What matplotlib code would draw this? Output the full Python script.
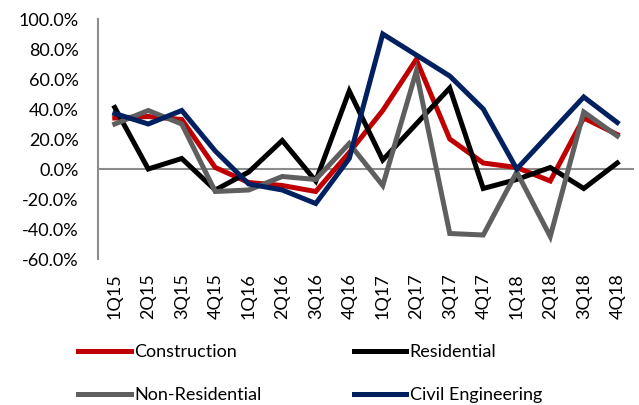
import matplotlib
matplotlib.use('Agg')
import matplotlib.pyplot as plt
from matplotlib.ticker import FuncFormatter

quarters = ['1Q15', '2Q15', '3Q15', '4Q15', '1Q16', '2Q16', '3Q16', '4Q16',
            '1Q17', '2Q17', '3Q17', '4Q17', '1Q18', '2Q18', '3Q18', '4Q18']

construction = [34, 35, 33, 1, -9, -11, -15, 11, 39, 73, 20, 4, 1, -8, 34, 23]
residential = [41, 0, 7, -14, -2, 19, -8, 52, 6, 30, 54, -13, -7, 1, -13, 4]
non_residential = [30, 39, 30, -15, -14, -5, -7, 17, -11, 65, -43, -44, -2, -45, 38, 22]
civil_engineering = [37, 30, 39, 12, -10, -14, -23, 7, 90, 76, 62, 40, 0, 24, 48, 31]

series = [
    ('Construction', construction, '#C00000'),
    ('Residential', residential, '#000000'),
    ('Non-Residential', non_residential, '#5F5F5F'),
    ('Civil Engineering', civil_engineering, '#002060'),
]

plt.rcParams['font.family'] = ['Lato', 'DejaVu Sans']


def main():
    fig = plt.figure(figsize=(6.39, 4.05), dpi=100)
    ax = fig.add_axes([98 / 639, 1 - 259 / 405, 536 / 639, 240 / 405])

    x = list(range(len(quarters)))
    ax.axhline(0, color='#8C8C8C', lw=1.5, zorder=1)
    lines = {}
    for name, vals, col in series:
        lines[name], = ax.plot(x, vals, color=col, lw=3.6, label=name,
                               solid_joinstyle='miter', zorder=2)

    ax.set_xlim(-0.5, len(quarters) - 0.5)
    ax.set_ylim(-60, 100)
    ax.set_yticks(range(-60, 101, 20))
    ax.yaxis.set_major_formatter(FuncFormatter(lambda v, p: f'{v:.1f}%'))
    ax.set_xticks(x)
    ax.set_xticklabels(quarters, rotation=90)

    for s in ['top', 'right', 'bottom']:
        ax.spines[s].set_visible(False)
    ax.spines['left'].set_color('#8C8C8C')
    ax.spines['left'].set_linewidth(1.5)
    ax.tick_params(axis='y', length=0, pad=14, labelsize=13)
    ax.tick_params(axis='x', length=0, pad=10, labelsize=13)

    # matplotlib fills legend columns first, so reorder to read row by row
    order = ['Construction', 'Non-Residential', 'Residential', 'Civil Engineering']
    fig.legend([lines[n] for n in order], order, loc='upper left',
               bbox_to_anchor=(62 / 639, 1 - 328 / 405), ncol=2,
               frameon=False, fontsize=13, handlelength=2.9, handletextpad=0.2,
               columnspacing=5.1, labelspacing=1.5)

    fig.savefig('out.png', dpi=100)


if __name__ == '__main__':
    main()
